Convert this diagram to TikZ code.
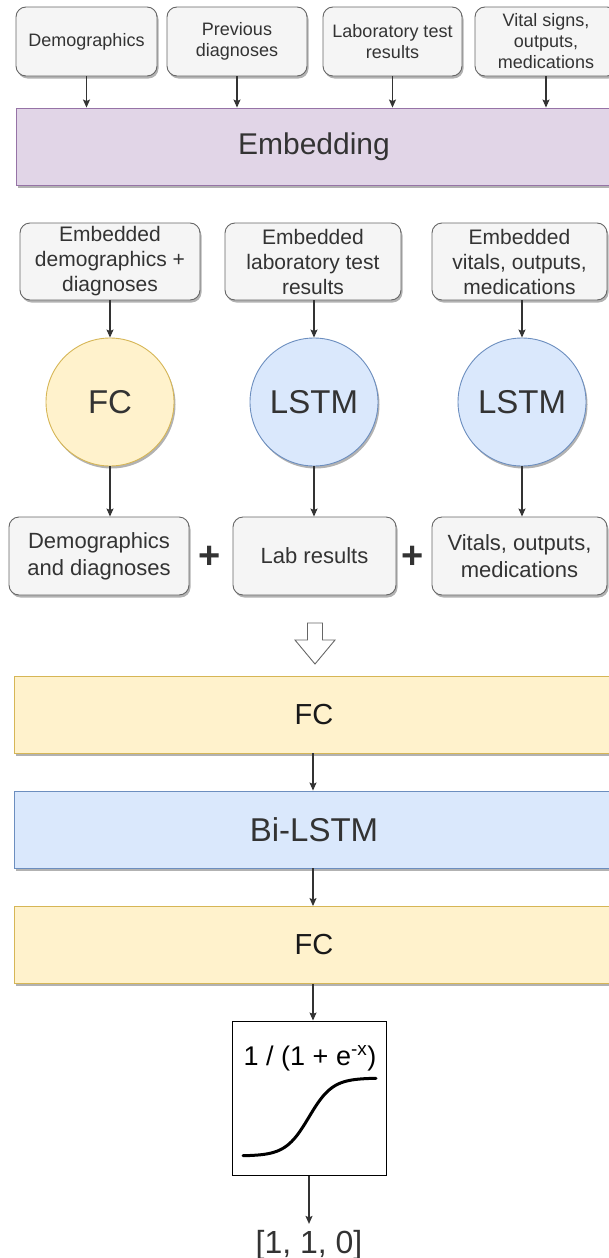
\documentclass[tikz,border=0pt]{standalone}
\usepackage{fontspec}
\setmainfont{Liberation Sans}
\usetikzlibrary{shadows,arrows.meta}
\definecolor{grayfill}{HTML}{F5F5F5}
\definecolor{grayline}{HTML}{666666}
\definecolor{txt}{HTML}{333333}
\definecolor{purfill}{HTML}{E1D5E7}
\definecolor{purline}{HTML}{9673A6}
\definecolor{yelfill}{HTML}{FFF2CC}
\definecolor{yelline}{HTML}{D6B656}
\definecolor{blufill}{HTML}{DAE8FC}
\definecolor{bluline}{HTML}{6C8EBF}
\tikzset{
  shad/.style={drop shadow={shadow xshift=1.5pt, shadow yshift=-2.5pt, opacity=0.3, fill=black}},
  inbox/.style={draw=grayline, fill=grayfill, rounded corners=10pt, text=txt, align=center,
    inner sep=0pt, line width=0.9pt, shad},
  toprow/.style={inbox, minimum height=69pt, font=\fontsize{18}{21}\selectfont},
  midrow/.style={inbox, minimum height=77pt, font=\fontsize{21}{25}\selectfont},
  botrow/.style={inbox, minimum height=78pt, font=\fontsize{22}{27}\selectfont},
  layer/.style={minimum width=600pt, minimum height=77pt, inner sep=0pt, line width=0.9pt, shad},
  circ/.style={circle, minimum size=128pt, inner sep=0pt, line width=0.9pt, shad,
    font=\fontsize{33}{36}\selectfont, text=txt},
  yel/.style={fill=yelfill, draw=yelline},
  blu/.style={fill=blufill, draw=bluline},
  conn/.style={draw=txt, line width=1.1pt, -{Stealth[length=8pt,width=7pt,inset=1.5pt]}},
}
\begin{document}
\begin{tikzpicture}[x=1pt,y=-1pt]
\useasboundingbox (0,0) rectangle (608,1258);
% top row
\node[toprow, minimum width=141pt] (t1) at (86.5,41.5) {Demographics};
\node[toprow, minimum width=140pt] (t2) at (237,41.5) {Previous\\diagnoses};
\node[toprow, minimum width=139pt] (t3) at (392.5,41.5) {Laboratory test\\results};
\node[toprow, minimum width=142pt] (t4) at (546,41.5) {Vital signs,\\outputs,\\medications};
% embedding
\node[layer, fill=purfill, draw=purline, minimum width=596pt, text=txt,
  font=\fontsize{30}{34}\selectfont] (emb) at (314,146.5) {Embedding};
\foreach \n in {t1,t2,t3,t4}{\draw[conn] (\n.south) -- (\n.south |- emb.north);}
% embedded boxes
\node[midrow, minimum width=180pt] (e1) at (110,261.5) {Embedded\\demographics +\\diagnoses};
\node[midrow, minimum width=176pt] (e2) at (313,261.5) {Embedded\\laboratory test\\results};
\node[midrow, minimum width=175pt] (e3) at (519.5,261.5) {Embedded\\vitals, outputs,\\medications};
% circles
\node[circ, yel] (c1) at (110,402) {FC};
\node[circ, blu] (c2) at (314,402) {LSTM};
\node[circ, blu] (c3) at (522,402) {LSTM};
\draw[conn] (e1.south -| c1) -- (c1.north);
\draw[conn] (e2.south -| c2) -- (c2.north);
\draw[conn] (e3.south -| c3) -- (c3.north);
% bottom row
\node[botrow, minimum width=180pt] (b1) at (99,556) {Demographics\\and diagnoses};
\node[botrow, minimum width=163pt] (b2) at (314.5,556) {Lab results};
\node[botrow, minimum width=175pt] (b3) at (519.5,556) {Vitals, outputs,\\medications};
\node[text=txt, font=\fontsize{38}{40}\selectfont\bfseries, inner sep=0pt] (p1) at (210,557) {+};
\node[text=txt, font=\fontsize{38}{40}\selectfont\bfseries, inner sep=0pt] (p2) at (413,557) {+};
\draw[conn] (c1.south) -- (c1.south |- b1.north);
\draw[conn] (c2.south) -- (c2.south |- b2.north);
\draw[conn] (c3.south) -- (c3.south |- b3.north);
% hollow arrow
\coordinate (ha) at (315,623);
\draw[draw=grayline, fill=white, line width=0.9pt, line join=miter]
  ([xshift=-7.5pt]ha) -- ++(0,17) -- ++(-12.5,0) -- ++(20,24) -- ++(20,-24) -- ++(-12.5,0) -- ++(0,-17) -- cycle;
% layers
\node[layer, yel, font=\fontsize{29}{32}\selectfont, text=black!90] (fc1) at (314,714.5) {FC};
\node[layer, blu, font=\fontsize{33}{36}\selectfont, text=txt] (bil) at (314,829.5) {Bi-LSTM};
\node[layer, yel, font=\fontsize{29}{32}\selectfont, text=black!90] (fc2) at (314,945) {FC};
\draw[conn] (fc1.south -| 313,0) -- (bil.north -| 313,0);
\draw[conn] (bil.south -| 313,0) -- (fc2.north -| 313,0);
% sigmoid box
\node[draw=black, fill=white, line width=1pt, minimum size=154pt, inner sep=0pt] (sig) at (309,1098) {};
\draw[conn] (fc2.south -| 313,0) -- (sig.north -| 313,0);
\node[font=\fontsize{27}{30}\selectfont, text=black, inner sep=0pt] (sigt) at (310,1058) {1 / (1 + e\textsuperscript{-x})};
\draw[line width=3pt, black, line cap=round] plot[domain=243:376, samples=100] (\x, {1156 - 78/(1+exp(-0.085*(\x-309)))});
% output
\node[font=\fontsize{32}{34}\selectfont, text=txt, inner sep=0pt] (out) at (309,1245) {[1, 1, 0]};
\draw[conn] (sig.south -| 309,0) -- ([yshift=6pt]out.north -| 309,0);
\end{tikzpicture}
\end{document}
